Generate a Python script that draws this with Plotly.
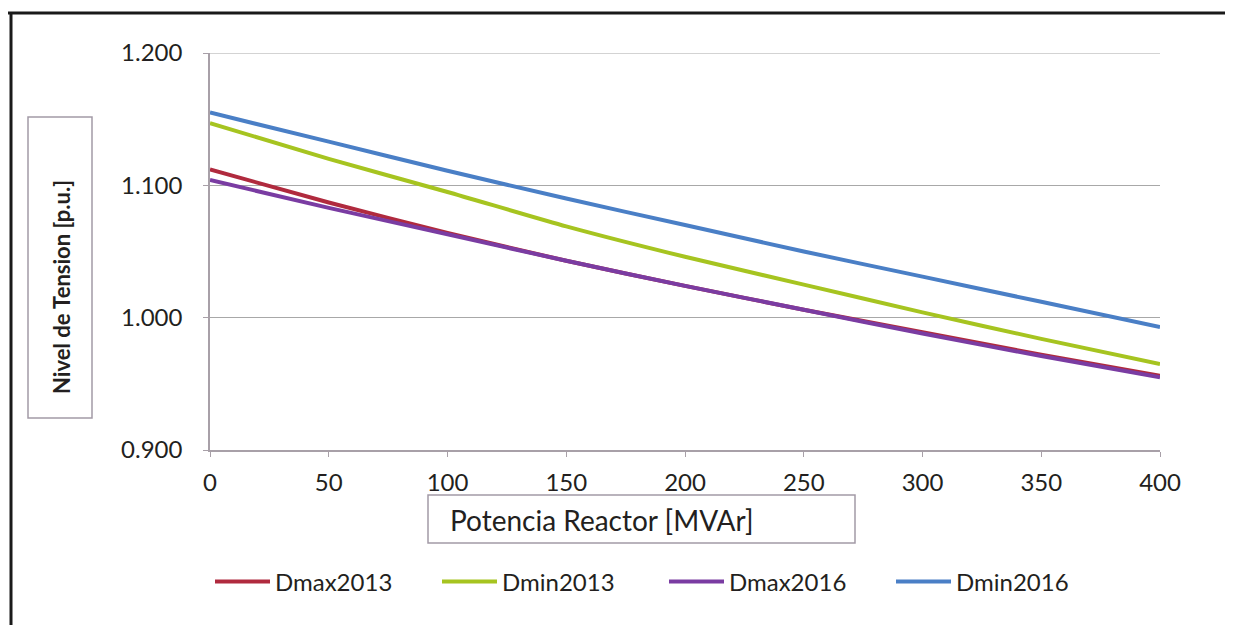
import plotly.graph_objects as go

# Data
potencia = [0, 50, 100, 150, 200, 250, 300, 350, 400]
dmax2013 = [1.112, 1.087, 1.064, 1.043, 1.024, 1.006, 0.989, 0.972, 0.956]
dmin2013 = [1.147, 1.120, 1.095, 1.069, 1.046, 1.025, 1.004, 0.984, 0.965]
dmax2016 = [1.104, 1.083, 1.063, 1.043, 1.024, 1.006, 0.988, 0.971, 0.955]
dmin2016 = [1.155, 1.133, 1.111, 1.090, 1.070, 1.050, 1.031, 1.012, 0.993]

series_names = ["Dmax2013", "Dmin2013", "Dmax2016", "Dmin2016"]
series_vals = [dmax2013, dmin2013, dmax2016, dmin2016]
colors = ["#B02A3E", "#A6C420", "#7A3CA2", "#4A7FC6"]

y_ticks = [0.9, 1.0, 1.1, 1.2]
y_ticklabels = ["0.900", "1.000", "1.100", "1.200"]
x_ticks = [0, 50, 100, 150, 200, 250, 300, 350, 400]

FONT = "Lato"
TXT = "#231F20"

# page body has an 8px margin; figure is sized to fit the 1233x625 window
OFF = 8
W, H = 1233 - OFF, 625 - OFF
# plot area in screen pixels
SL, SR, ST, SB = 210, 1160, 53, 450
L, T = SL - OFF, ST - OFF
R = W - (SR - OFF)
B = H - (SB - OFF)


def fx(sx):
    return (sx - SL) / (SR - SL)


def fy(sy):
    return (SB - sy) / (SB - ST)


fig = go.Figure()
for name, vals, col in zip(series_names, series_vals, colors):
    fig.add_trace(go.Scatter(
        x=potencia, y=vals, name=name, mode="lines",
        line=dict(color=col, width=4, shape="spline", smoothing=0.6),
    ))

fig.update_layout(
    width=W, height=H,
    margin=dict(l=L, r=R, t=T, b=B),
    paper_bgcolor="white", plot_bgcolor="white",
    font=dict(family=FONT, color=TXT),
    showlegend=True,
    legend=dict(
        orientation="h", x=fx(210), xanchor="left", y=fy(582), yanchor="middle",
        font=dict(size=24, family=FONT, color=TXT),
        entrywidth=157, entrywidthmode="pixels",
        itemwidth=55, tracegroupgap=0,
        bgcolor="rgba(0,0,0,0)",
    ),
    xaxis=dict(
        range=[0, 400], tickvals=x_ticks, ticktext=[str(v) for v in x_ticks],
        showgrid=False, zeroline=False,
        showline=True, linecolor="#A8A0A8", linewidth=1.5,
        ticks="outside", ticklen=5, tickcolor="#A8A0A8",
        tickfont=dict(size=24, family=FONT, color=TXT),
        ticklabelstandoff=5,
    ),
    yaxis=dict(
        range=[0.9, 1.2], tickvals=y_ticks, ticktext=y_ticklabels,
        showgrid=True, gridcolor="#A8A8A8", gridwidth=1,
        zeroline=False,
        showline=True, linecolor="#A8A0A8", linewidth=1.5,
        ticks="outside", ticklen=5, tickcolor="#A8A0A8",
        tickfont=dict(size=24, family=FONT, color=TXT),
        ticklabelstandoff=16,
    ),
)

shapes = []
# top gridline at the axis maximum
shapes.append(dict(type="line", xref="x", yref="y",
                   x0=x_ticks[0], x1=x_ticks[-1], y0=y_ticks[-1], y1=y_ticks[-1],
                   line=dict(color="#A8A8A8", width=1)))
# outer frame (top and left lines)
shapes.append(dict(type="line", xref="paper", yref="paper",
                   x0=fx(8), x1=fx(1240), y0=fy(13), y1=fy(13),
                   line=dict(color="#1A1A1A", width=3)))
shapes.append(dict(type="line", xref="paper", yref="paper",
                   x0=fx(11), x1=fx(11), y0=fy(12), y1=fy(640),
                   line=dict(color="#1A1A1A", width=3)))
shapes.append(dict(type="line", xref="paper", yref="paper",
                   x0=fx(1230), x1=fx(1230), y0=fy(14), y1=fy(640),
                   line=dict(color="#DDDDDD", width=1)))
# y title box
shapes.append(dict(type="rect", xref="paper", yref="paper",
                   x0=fx(28), x1=fx(92), y0=fy(418), y1=fy(117),
                   line=dict(color="#A39AA6", width=1.5)))
# x title box
shapes.append(dict(type="rect", xref="paper", yref="paper",
                   x0=fx(428), x1=fx(855), y0=fy(543), y1=fy(495),
                   line=dict(color="#A39AA6", width=1.5)))
fig.update_layout(shapes=shapes)

fig.add_annotation(
    text="<b>Nivel de Tension [p.u.]</b>", xref="paper", yref="paper",
    x=fx(61), y=fy(287), xanchor="center", yanchor="middle",
    textangle=-90, showarrow=False,
    font=dict(size=22, family=FONT, color=TXT),
)
fig.add_annotation(
    text="Potencia Reactor [MVAr]", xref="paper", yref="paper",
    x=fx(602), y=fy(520), xanchor="center", yanchor="middle",
    showarrow=False,
    font=dict(size=28, family=FONT, color=TXT),
)

fig.write_html("out.html")
